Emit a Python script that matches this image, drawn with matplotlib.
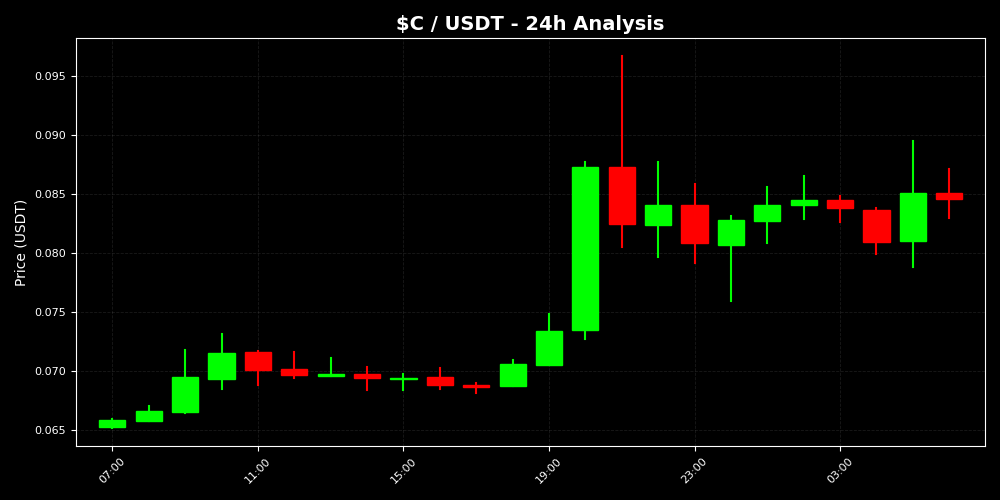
import datetime as dt
import matplotlib
matplotlib.use("Agg")
import matplotlib.pyplot as plt
import matplotlib.dates as mdates
from matplotlib.patches import Rectangle

# hourly candles, 07:00 -> 06:00 next day
start = dt.datetime(2024, 1, 1, 7, 0)
times = [start + dt.timedelta(hours=i) for i in range(24)]

opens = [0.06525, 0.06574, 0.06653, 0.06932, 0.07158, 0.07017, 0.06958, 0.06977,
         0.06932, 0.06949, 0.06881, 0.06873, 0.07051, 0.07347, 0.08729, 0.08240,
         0.08407, 0.08070, 0.08274, 0.08409, 0.08449, 0.08364, 0.08104, 0.08511]
closes = [0.06585, 0.06664, 0.06949, 0.07155, 0.07008, 0.06966, 0.06975, 0.06943,
          0.06940, 0.06881, 0.06867, 0.07062, 0.07339, 0.08729, 0.08248, 0.08407,
          0.08087, 0.08280, 0.08407, 0.08452, 0.08384, 0.08096, 0.08508, 0.08458]
highs = [0.06590, 0.06703, 0.07178, 0.07314, 0.07169, 0.07161, 0.07110, 0.07036,
         0.06975, 0.07025, 0.06901, 0.07093, 0.07483, 0.08771, 0.09672, 0.08771,
         0.08582, 0.08314, 0.08559, 0.08653, 0.08483, 0.08379, 0.08950, 0.08712]
lows = [0.06520, 0.06574, 0.06647, 0.06850, 0.06884, 0.06943, 0.06958, 0.06839,
        0.06839, 0.06847, 0.06816, 0.06873, 0.07051, 0.07271, 0.08053, 0.07969,
        0.07918, 0.07596, 0.08087, 0.08291, 0.08265, 0.07994, 0.07884, 0.08299]

plt.style.use("dark_background")
fig, ax = plt.subplots(figsize=(10, 5), dpi=100)
fig.patch.set_facecolor("black")
ax.set_facecolor("black")

width = 0.03  # days
for t, o, c, h, l in zip(times, opens, closes, highs, lows):
    x = mdates.date2num(t)
    color = "#00ff00" if c >= o else "#ff0000"
    ax.plot([x, x], [l, h], color=color, linewidth=1.5, zorder=2)
    ax.add_patch(Rectangle((x - width / 2, min(o, c)), width, max(abs(c - o), 0.00008),
                           facecolor=color, edgecolor=color, zorder=3))

ax.set_xlim(mdates.date2num(times[0] - dt.timedelta(hours=1)),
            mdates.date2num(times[-1] + dt.timedelta(minutes=59)))
ax.set_ylim(0.06364, 0.09822)

ax.xaxis.set_major_locator(mdates.HourLocator(byhour=[3, 7, 11, 15, 19, 23]))
ax.xaxis.set_major_formatter(mdates.DateFormatter("%H:%M"))
plt.setp(ax.get_xticklabels(), rotation=45, fontsize=8)
plt.setp(ax.get_yticklabels(), fontsize=8)

ax.grid(True, color="gray", alpha=0.2, linestyle="--", linewidth=0.6)
for s in ax.spines.values():
    s.set_color("white")

ax.set_ylabel("Price (USDT)", fontsize=10)
ax.set_title(r"\$C / USDT - 24h Analysis", fontsize=14, fontweight="bold")

plt.subplots_adjust(left=0.076, right=0.985, top=0.924, bottom=0.108)
plt.savefig("out.png", facecolor=fig.get_facecolor())
